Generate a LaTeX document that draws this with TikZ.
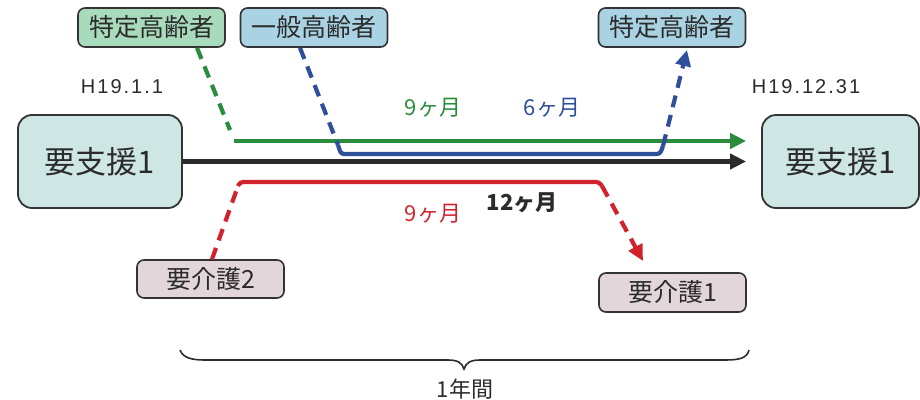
\documentclass[tikz,border=0pt]{standalone}
\usepackage{fontspec}
\setmainfont{Noto Sans CJK JP}
\newfontfamily\latinf[LetterSpace=10]{Liberation Sans}
\usetikzlibrary{arrows.meta,calc}
\definecolor{cgreen}{HTML}{2A8C3C}
\definecolor{cblue}{HTML}{2F4E9C}
\definecolor{cred}{HTML}{D2232C}
\definecolor{cblack}{HTML}{2B2B2B}
\definecolor{fteal}{HTML}{CFE7E4}
\definecolor{fgreen}{HTML}{A8DABC}
\definecolor{fblue}{HTML}{A9D2E3}
\definecolor{fpink}{HTML}{E3D6DB}
\definecolor{cborder}{HTML}{333333}
\tikzset{
  bigbox/.style={draw=cborder, line width=1.8pt, fill=fteal, rounded corners=14pt, minimum width=164pt, minimum height=93pt, inner sep=0pt, font=\fontsize{31}{34}\selectfont, text=cblack},
  smallbox/.style={draw=cborder, line width=1.6pt, rounded corners=7pt, minimum width=147pt, minimum height=39pt, inner sep=0pt, font=\fontsize{25}{27}\selectfont, text=cblack},
  dateline/.style={font=\latinf\fontsize{20}{22}\selectfont, text=cblack},
  monthlbl/.style={font=\fontsize{22}{24}\selectfont},
  solidln/.style={line width=4.2pt},
  dashln/.style={line width=4.2pt, dash pattern=on 12pt off 8pt},
  tip/.style={-{Triangle[length=16pt,width=15pt]}}
}
\begin{document}
\begin{tikzpicture}[x=1pt,y=-1pt]
\useasboundingbox (0,0) rectangle (920,399);
\fill[white] (0,0) rectangle (920,399);
% boxes
\node[bigbox] (lbox) at (100,161.5) {要支援1};
\node[bigbox, minimum width=157pt] (rbox) at (840.5,161.5) {要支援1};
\node[smallbox, fill=fgreen] (g1) at (151.5,27.5) {特定高齢者};
\node[smallbox, fill=fblue] (b1) at (314,27.5) {一般高齢者};
\node[smallbox, fill=fblue] (b2) at (672,27.5) {特定高齢者};
\node[smallbox, fill=fpink, minimum height=38pt] (k2) at (210.5,279) {要介護2};
\node[smallbox, fill=fpink] (k1) at (672.5,292.5) {要介護1};
% dates
\node[dateline] (d1) at (122,87) {H19.1.1};
\node[dateline] (d2) at (806,87) {H19.12.31};
% coordinates
\coordinate (gA) at ($(g1.south)+(45.5,0)$);
\coordinate (gB) at (230,130);
\coordinate (gC) at (234,141);
\coordinate (gD) at (rbox.west |- gC);
\coordinate (bA) at ($(b1.south)+(-14,0)$);
\coordinate (bB) at (338,145);
\coordinate (bC) at (663,146);
\coordinate (bD) at (687,50);
\coordinate (kA) at ($(k2.north)+(1.5,0)$);
\coordinate (kB) at (238,186);
\coordinate (kC) at (602,186);
\coordinate (kD) at (643,261);
\coordinate (mB) at (rbox.west |- lbox.east);
% green
\draw[cgreen, dashln] (gA) -- (gB);
\draw[cgreen, solidln, tip, shorten >=15pt] (gC) -- (gD);
% blue
\draw[cblue, dashln] (bA) -- (bB);
\draw[cblue, solidln, rounded corners=3pt] (bB) -- (341,154) -- (660,154) -- (bC);
\draw[cblue, dashln, tip] (bC) -- (bD);
% black
\draw[cblack, line width=5pt, tip, shorten >=15pt] (lbox.east) -- (mB);
% red
\draw[cred, dashln] (kA) -- (kB);
\draw[cred, solidln, rounded corners=3pt] (kB) -- (240,182) -- (599,182) -- (kC);
\draw[cred, dashln, tip] (kC) -- (kD);
% month labels
\node[monthlbl, text=cgreen] (m1) at (433,108) {9ヶ月};
\node[monthlbl, text=cblue] (m2) at (552,108) {6ヶ月};
\node[monthlbl, text=cred] (m3) at (433,214) {9ヶ月};
\node[monthlbl, text=cblack, font=\bfseries\fontsize{22}{24}\selectfont] (m4) at (522,203) {12ヶ月};
% brace
\draw[cblack, line width=1.6pt] (180,350) .. controls (183,358) and (192,360) .. (205,360) -- (448,360) .. controls (458,360) and (462,363) .. (464,369) .. controls (466,363) and (470,360) .. (480,360) -- (725,360) .. controls (740,360) and (747,358) .. (749,350);
\node[font=\fontsize{22}{24}\selectfont, text=cblack] (yr) at (465,389) {1年間};
\end{tikzpicture}
\end{document}
